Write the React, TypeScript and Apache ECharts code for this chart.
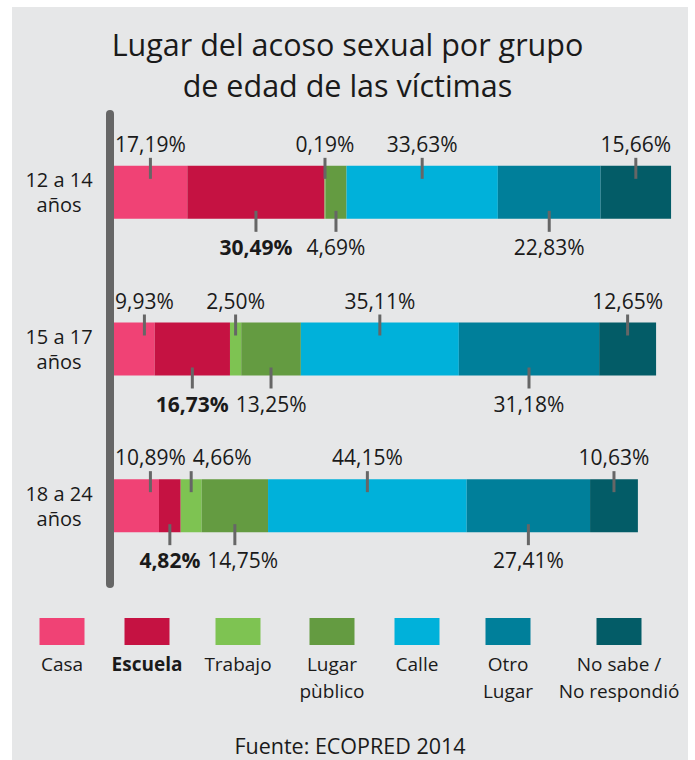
import React, { useEffect, useRef } from 'react';
import * as echarts from 'echarts';

// ---- data ----
const groups = ['12 a 14\naños', '15 a 17\naños', '18 a 24\naños'];
const titleLines = ['Lugar del acoso sexual por grupo', 'de edad de las víctimas'];
const legendLabels = ['Casa', 'Escuela', 'Trabajo', 'Lugar\npùblico', 'Calle', 'Otro\nLugar', 'No sabe /\nNo respondió'];
const seriesNames = ['Casa', 'Escuela', 'Trabajo', 'Lugar público', 'Calle', 'Otro Lugar', 'No sabe / No respondió'];
const colors = ['#f04275', '#c51242', '#7ec352', '#649b41', '#00b1da', '#007f9a', '#035c67'];
const casa = [17.19, 9.93, 10.89];
const escuela = [30.49, 16.73, 4.82];
const trabajo = [0.19, 2.5, 4.66];
const lugarPublico = [4.69, 13.25, 14.75];
const calle = [33.63, 35.11, 44.15];
const otroLugar = [22.83, 31.18, 27.41];
const noSabe = [15.66, 12.65, 10.63];
const values = [casa, escuela, trabajo, lugarPublico, calle, otroLugar, noSabe];
const BOLD_INDEX = 1; // Escuela

// ---- layout / style ----
const FONT = '"Open Sans", "Noto Sans", sans-serif';
const TEXT = '#1a1a1a';
const TICK = '#666666';
const BAR_W = 53;
const LABEL_SIZE = 21;
const legendX = [62, 147, 238, 332, 417, 508, 619];
const titleY = [43.5, 85];

const fmt = (v: number) => v.toFixed(2).replace('.', ',') + '%';

let ctx: CanvasRenderingContext2D | null = null;
const measure = (t: string, bold: boolean) => {
  if (!ctx) ctx = document.createElement('canvas').getContext('2d');
  if (!ctx) return t.length * 11;
  ctx.font = `${bold ? 'bold ' : ''}${LABEL_SIZE}px ${FONT}`;
  return ctx.measureText(t).width;
};

export default function App() {
  const ref = useRef<HTMLDivElement>(null);
  useEffect(() => {
    const chart = echarts.init(ref.current!, null, { renderer: 'svg' });

    const labelData: number[][] = [];
    groups.forEach((_, i) => values.forEach((__, j) => labelData.push([0, i, j])));

    const barSeries = values.map((arr, j) => ({
      type: 'bar',
      name: seriesNames[j],
      stack: 'total',
      data: arr,
      barWidth: BAR_W,
      itemStyle: { color: colors[j] },
      silent: true,
      z: 2,
    }));

    const labelSeries = {
      type: 'custom',
      data: labelData,
      encode: { x: 0, y: 1 },
      clip: false,
      silent: true,
      z: 5,
      renderItem: (params: any, api: any) => {
        const i = api.value(1) as number;
        const j = api.value(2) as number;
        const base = api.coord([0, i]);
        const axisX = base[0];
        const yC = base[1];
        const top = yC - BAR_W / 2;
        const bottom = yC + BAR_W / 2;
        let cum = 0;
        const prevRight = [-Infinity, -Infinity];
        let result: any = null;
        for (let k = 0; k <= j; k++) {
          const v = values[k][i];
          const c = api.coord([cum + v / 2, i])[0];
          cum += v;
          const side = k % 2;
          const text = fmt(v);
          const bold = k === BOLD_INDEX;
          const w = measure(text, bold);
          let tickX = c;
          let tx = c;
          if (k === 0) {
            tx = Math.max(c, axisX + 5 + w / 2);
            tickX = tx;
          }
          tx = Math.max(tx, prevRight[side] + 7 + w / 2);
          prevRight[side] = tx + w / 2;
          if (k === j) {
            const above = side === 0;
            const y1 = above ? top - 8 : bottom - 8;
            const y2 = above ? top + 13 : bottom + 13;
            const ty = above ? top - 22 : bottom + 28;
            result = {
              type: 'group',
              children: [
                {
                  type: 'line',
                  shape: { x1: tickX, y1, x2: tickX, y2 },
                  style: { stroke: TICK, lineWidth: 3 },
                },
                {
                  type: 'text',
                  style: {
                    text,
                    x: tx,
                    y: ty,
                    align: 'center',
                    verticalAlign: 'middle',
                    fill: TEXT,
                    fontSize: LABEL_SIZE,
                    fontFamily: FONT,
                    fontWeight: bold ? 'bold' : 'normal',
                  },
                },
              ],
            };
          }
        }
        return result;
      },
    };

    const legendGraphics: any[] = [];
    legendLabels.forEach((lab, k) => {
      legendGraphics.push({
        type: 'rect',
        shape: { x: legendX[k] - 22.5, y: 618, width: 45, height: 27 },
        style: { fill: colors[k] },
      });
      legendGraphics.push({
        type: 'text',
        style: {
          text: lab,
          x: legendX[k],
          y: 650,
          align: 'center',
          verticalAlign: 'top',
          fill: TEXT,
          fontSize: 19,
          lineHeight: 27,
          fontFamily: FONT,
          fontWeight: k === BOLD_INDEX ? 'bold' : 'normal',
        },
      });
    });

    const titleGraphics = titleLines.map((t, k) => ({
      type: 'text',
      style: {
        text: t,
        x: 347.5,
        y: titleY[k],
        align: 'center',
        verticalAlign: 'middle',
        fill: TEXT,
        fontSize: 30.5,
        fontFamily: FONT,
      },
    }));

    chart.setOption({
      animation: false,
      backgroundColor: 'transparent',
      textStyle: { fontFamily: FONT },
      grid: { left: 110, top: 114, width: 562.5, height: 470 },
      xAxis: { type: 'value', min: 0, max: 125, show: false },
      yAxis: {
        type: 'category',
        data: groups,
        inverse: true,
        z: 10,
        axisTick: { show: false },
        axisLine: { show: true, lineStyle: { color: TICK, width: 8 } },
        axisLabel: {
          align: 'center',
          margin: 51,
          color: TEXT,
          fontSize: 20,
          lineHeight: 25,
          fontFamily: FONT,
        },
      },
      graphic: [
        ...titleGraphics,
        ...legendGraphics,
        {
          type: 'text',
          style: {
            text: 'Fuente: ECOPRED 2014',
            x: 350,
            y: 745,
            align: 'center',
            verticalAlign: 'middle',
            fill: TEXT,
            fontSize: 21.5,
            fontFamily: FONT,
          },
        },
      ],
      series: [...barSeries, labelSeries],
    });

    return () => chart.dispose();
  }, []);

  return (
    <div style={{ position: 'fixed', left: 0, top: 0, width: 695, height: 760, background: '#ffffff' }}>
      <div style={{ position: 'absolute', left: 12, top: 7, width: 676, height: 753, background: '#e6e7e8' }} />
      <div ref={ref} style={{ position: 'absolute', left: 0, top: 0, width: 695, height: 760 }} />
    </div>
  );
}
